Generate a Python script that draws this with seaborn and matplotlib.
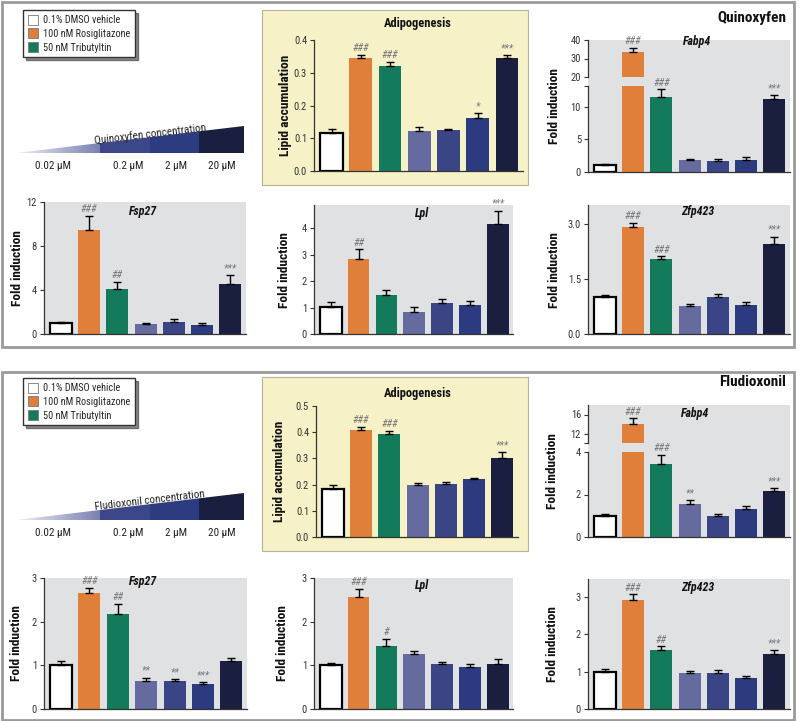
import numpy as np
import pandas as pd
import matplotlib
matplotlib.use("Agg")
import matplotlib.pyplot as plt
import seaborn as sns
from matplotlib import font_manager
from matplotlib.patches import Rectangle, Polygon, Patch

# ---- data ----
groups = ["DMSO", "Rosi", "TBT", "c1", "c2", "c3", "c4"]
bar_colors = ["#ffffff", "#e07f3a", "#137a5b", "#656b9f", "#3a4585", "#2c3b80", "#1b1f3f"]
legend_labels = ["0.1% DMSO vehicle", "100 nM Rosiglitazone", "50 nM Tributyltin"]
conc_labels = ["0.02 μM", "0.2 μM", "2 μM", "20 μM"]
chemicals = ["Quinoxyfen", "Fludioxonil"]

# Quinoxyfen
q_adipo = [0.117, 0.344, 0.322, 0.123, 0.126, 0.163, 0.344]
q_adipo_err = [0.010, 0.010, 0.012, 0.010, 0.003, 0.013, 0.010]
q_adipo_sig = ["", "###", "###", "", "", "*", "***"]

q_fabp4 = [1.1, 33.6, 11.5, 1.8, 1.65, 1.8, 11.2]
q_fabp4_err = [0.1, 2.3, 1.2, 0.15, 0.3, 0.45, 0.6]
q_fabp4_sig = ["", "###", "###", "", "", "", "***"]

q_fsp27 = [1.03, 9.48, 4.07, 0.88, 1.12, 0.82, 4.53]
q_fsp27_err = [0.09, 1.28, 0.67, 0.15, 0.22, 0.18, 0.85]
q_fsp27_sig = ["", "###", "##", "", "", "", "***"]

q_lpl = [1.01, 2.84, 1.48, 0.82, 1.16, 1.09, 4.15]
q_lpl_err = [0.19, 0.36, 0.19, 0.19, 0.15, 0.17, 0.52]
q_lpl_sig = ["", "##", "", "", "", "", "***"]

q_zfp = [1.02, 2.91, 2.05, 0.77, 1.02, 0.79, 2.45]
q_zfp_err = [0.05, 0.13, 0.07, 0.04, 0.07, 0.08, 0.21]
q_zfp_sig = ["", "###", "###", "", "", "", "***"]

# Fludioxonil
f_adipo = [0.185, 0.408, 0.395, 0.198, 0.202, 0.221, 0.301]
f_adipo_err = [0.015, 0.013, 0.011, 0.010, 0.007, 0.006, 0.022]
f_adipo_sig = ["", "###", "###", "", "", "", "***"]

f_fabp4 = [0.99, 13.9, 3.45, 1.54, 0.99, 1.33, 2.16]
f_fabp4_err = [0.08, 1.3, 0.42, 0.19, 0.11, 0.11, 0.16]
f_fabp4_sig = ["", "###", "###", "**", "", "", "***"]

f_fsp27 = [1.01, 2.65, 2.17, 0.65, 0.63, 0.57, 1.09]
f_fsp27_err = [0.08, 0.13, 0.24, 0.07, 0.06, 0.04, 0.07]
f_fsp27_sig = ["", "###", "##", "**", "**", "***", ""]

f_lpl = [1.01, 2.56, 1.45, 1.25, 1.03, 0.97, 1.03]
f_lpl_err = [0.05, 0.19, 0.15, 0.08, 0.05, 0.05, 0.11]
f_lpl_sig = ["", "###", "#", "", "", "", ""]

f_zfp = [1.0, 2.91, 1.58, 0.95, 0.97, 0.82, 1.47]
f_zfp_err = [0.06, 0.15, 0.09, 0.07, 0.06, 0.05, 0.11]
f_zfp_sig = ["", "###", "##", "", "", "", "***"]

# ---- style ----
sns.set_style("ticks")

# pick a narrow font if one is around, otherwise shrink DejaVu a bit
fonts = {(f.name, f.stretch) for f in font_manager.fontManager.ttflist}
names = {n for n, _ in fonts}
fs = 1.0
if "Liberation Sans Narrow" in names:
    plt.rcParams["font.family"] = ["Liberation Sans Narrow", "DejaVu Sans"]
elif "Roboto Condensed" in names:
    plt.rcParams["font.family"] = ["Roboto Condensed", "DejaVu Sans"]
elif ("DejaVu Sans", "condensed") in fonts or ("DejaVu Sans", "semi-condensed") in fonts:
    plt.rcParams["font.family"] = ["DejaVu Sans"]
    plt.rcParams["font.stretch"] = "condensed"
else:
    plt.rcParams["font.family"] = ["DejaVu Sans"]
    fs = 0.86
plt.rcParams["axes.linewidth"] = 0.8

W, H = 800, 721
fig = plt.figure(figsize=(W / 100, H / 100), dpi=100)

GRAY_BG = "#e0e1e3"
YELLOW = "#f6f1c6"
AXCOL = "#333333"


def px_axes(l, t, r, b):
    return fig.add_axes([l / W, 1 - b / H, (r - l) / W, (b - t) / H])


def px_rect(l, t, r, b, **kw):
    fig.patches.append(Rectangle((l / W, 1 - b / H), (r - l) / W, (b - t) / H,
                                 transform=fig.transFigure, **kw))


def px_text(x, y, s, **kw):
    fig.text(x / W, 1 - y / H, s, **kw)


def style_ax(ax, ylim, ticks, labels=None, face=GRAY_BG, bottom=True):
    ax.set_facecolor(face)
    ax.set_xlim(-0.6, 6.55)
    ax.set_ylim(ylim)
    ax.set_yticks(ticks)
    if labels is not None:
        ax.set_yticklabels(labels)
    ax.set_xticks([])
    ax.set_xlabel("")
    ax.set_ylabel("")
    for s in ["top", "right"]:
        ax.spines[s].set_visible(False)
    ax.spines["bottom"].set_visible(bottom)
    for s in ["left", "bottom"]:
        ax.spines[s].set_color(AXCOL)
        ax.spines[s].set_linewidth(0.9)
    ax.tick_params(axis="y", length=3, width=0.8, labelsize=7.6 * fs, pad=2,
                   colors=AXCOL)


def bars(ax, vals, errs):
    df = pd.DataFrame({"group": groups, "value": vals})
    sns.barplot(data=df, x="group", y="value", hue="group", palette=bar_colors,
                legend=False, width=0.78, saturation=1, linewidth=0, ax=ax)
    ax.patches[0].set_edgecolor("black")
    ax.patches[0].set_linewidth(1.6)
    ax.errorbar(range(len(vals)), vals, yerr=[np.zeros(len(vals)), errs],
                fmt="none", ecolor="black", elinewidth=1, capsize=3.2,
                capthick=1, zorder=3)


def sig_marks(ax, vals, errs, sig, only=None):
    for i, s in enumerate(sig):
        if not s or (only is not None and i not in only):
            continue
        ax.annotate(s, (i, vals[i] + errs[i]), xytext=(0, 1.2),
                    textcoords="offset points", ha="center", va="bottom",
                    fontsize=7.5 * fs, color="#7a7a7a", style="italic",
                    annotation_clip=False, zorder=5)


def simple_panel(box, vals, errs, sig, ylim, ticks, labels=None, face=GRAY_BG):
    ax = px_axes(*box)
    bars(ax, vals, errs)
    style_ax(ax, ylim, ticks, labels, face=face)
    sig_marks(ax, vals, errs, sig)
    return ax


def broken_panel(up_box, lo_box, vals, errs, sig, up_lim, lo_lim,
                 up_ticks, up_labels, lo_ticks, lo_labels):
    # fill gap between the two halves with the panel grey
    px_rect(up_box[0], up_box[3], up_box[2], lo_box[1], facecolor=GRAY_BG,
            edgecolor="none", zorder=-1)
    up = px_axes(*up_box)
    lo = px_axes(*lo_box)
    lo.set_zorder(2)
    bars(up, vals, errs)
    bars(lo, vals, errs)
    style_ax(up, up_lim, up_ticks, up_labels, bottom=False)
    style_ax(lo, lo_lim, lo_ticks, lo_labels)
    big = [i for i, v in enumerate(vals) if v > lo_lim[1]]
    small = [i for i, v in enumerate(vals) if v <= lo_lim[1]]
    sig_marks(up, vals, errs, sig, only=big)
    sig_marks(lo, vals, errs, sig, only=small)


def wedge(top, chem):
    # concentration wedge drawn in pixel coordinates
    ax = px_axes(0, top, 262, top + 60)
    ax.set_xlim(0, 262)
    ax.set_ylim(top + 60, top)
    ax.axis("off")
    x0, x1 = 16, 244
    base = top + 33
    rise = 27
    h = lambda x: base - rise * (x - x0) / (x1 - x0)
    cuts = [x0, 100, 150, 199, x1]
    seg_cols = [None, "#3c4789", "#2d3b80", "#1b1f3f"]
    tri = Polygon([(cuts[0], base), (cuts[1], base), (cuts[1], h(cuts[1]))],
                  closed=True, facecolor="none", edgecolor="none")
    ax.add_patch(tri)
    grad = np.linspace(0, 1, 256)[None, :]
    cmap = matplotlib.colors.LinearSegmentedColormap.from_list(
        "w", ["#eef0f6", "#7a80b0"])
    im = ax.imshow(grad, extent=[cuts[0], cuts[1], base, h(cuts[1])],
                   cmap=cmap, aspect="auto")
    im.set_clip_path(tri)
    for k in range(1, 4):
        a, b = cuts[k], cuts[k + 1]
        ax.add_patch(Polygon([(a, base), (b, base), (b, h(b)), (a, h(a))],
                             closed=True, facecolor=seg_cols[k], edgecolor="none"))
    ang = np.degrees(np.arctan(rise / (x1 - x0)))
    ax.text(150, top + 14, f"{chem} concentration", rotation=ang,
            rotation_mode="anchor", ha="center", va="center", fontsize=8 * fs,
            color="#222")
    for xx, lab in zip([53, 128, 176, 222], conc_labels):
        ax.text(xx, base + 13, lab, ha="center", va="center", fontsize=8 * fs,
                color="#222")


def legend_box(top):
    handles = [Patch(facecolor=c, edgecolor="#777", linewidth=0.6)
               for c in bar_colors[:3]]
    fig.legend(handles, legend_labels, loc="upper left",
               bbox_to_anchor=(23 / W, 1 - top / H), frameon=True,
               fancybox=False, shadow={"shade": 0.9}, edgecolor="#333",
               fontsize=7.4 * fs, handlelength=1.05, handleheight=1.15,
               handletextpad=0.45, borderpad=0.45, labelspacing=0.3,
               borderaxespad=0)


# outer frames and yellow boxes
for (t, b) in [(2, 347), (372, 720)]:
    px_rect(2, t, 794, b, facecolor="white", edgecolor="#9a9a9a",
            linewidth=2, zorder=-3)
px_rect(262, 10, 528, 185, facecolor=YELLOW, edgecolor="#b8b49a",
        linewidth=0.8, zorder=-2)
px_rect(262, 377, 528, 551, facecolor=YELLOW, edgecolor="#b8b49a",
        linewidth=0.8, zorder=-2)

# ---------------- Quinoxyfen ----------------
legend_box(10)
wedge(120, chemicals[0])
simple_panel((314, 40, 523, 171), q_adipo, q_adipo_err, q_adipo_sig,
             (0, 0.4), [0, 0.1, 0.2, 0.3, 0.4],
             ["0.0", "0.1", "0.2", "0.3", "0.4"], face="none")
broken_panel((588, 40, 790, 77), (588, 86, 790, 172), q_fabp4, q_fabp4_err,
             q_fabp4_sig, (20, 40), (0, 13.2), [20, 30, 40],
             ["20", "30", "40"], [0, 5, 10, 13.2], ["0", "5", "10", ""])
simple_panel((44, 202, 246, 334), q_fsp27, q_fsp27_err, q_fsp27_sig,
             (0, 12), [0, 4, 8, 12])
simple_panel((314, 205, 513, 334), q_lpl, q_lpl_err, q_lpl_sig,
             (0, 4.88), [0, 1, 2, 3, 4])
simple_panel((588, 205, 790, 334), q_zfp, q_zfp_err, q_zfp_sig,
             (0, 3.52), [0, 1.5, 3.0], ["0.0", "1.5", "3.0"])

# ---------------- Fludioxonil ----------------
legend_box(378)
wedge(487, chemicals[1])
simple_panel((316, 406, 518, 537), f_adipo, f_adipo_err, f_adipo_sig,
             (0, 0.5), [0, 0.1, 0.2, 0.3, 0.4, 0.5],
             ["0.0", "0.1", "0.2", "0.3", "0.4", "0.5"], face="none")
broken_panel((588, 405, 790, 443), (588, 452, 790, 537), f_fabp4, f_fabp4_err,
             f_fabp4_sig, (10, 18), (0, 4), [10, 12, 16], ["", "12", "16"],
             [0, 2, 4], ["0", "2", "4"])
simple_panel((44, 578, 247, 709), f_fsp27, f_fsp27_err, f_fsp27_sig,
             (0, 3), [0, 1, 2, 3])
simple_panel((314, 578, 513, 709), f_lpl, f_lpl_err, f_lpl_sig,
             (0, 3), [0, 1, 2, 3])
simple_panel((588, 579, 790, 709), f_zfp, f_zfp_err, f_zfp_sig,
             (0, 3.47), [0, 1, 2, 3])

# ---------------- titles and labels ----------------
bold = dict(fontweight="bold", color="#111")
px_text(786, 18, chemicals[0], ha="right", va="center", fontsize=11 * fs, **bold)
px_text(786, 382, chemicals[1], ha="right", va="center", fontsize=11 * fs, **bold)
px_text(418, 24, "Adipogenesis", ha="center", va="center", fontsize=9 * fs, **bold)
px_text(418, 393, "Adipogenesis", ha="center", va="center", fontsize=9 * fs, **bold)

ylab = dict(rotation=90, ha="center", va="center", fontsize=9.6 * fs, **bold)
px_text(286, 105, "Lipid accumulation", **ylab)
px_text(280, 471, "Lipid accumulation", **ylab)
for x, y in [(555, 106), (18, 268), (284, 270), (555, 270),
             (553, 471), (17, 643), (283, 643), (553, 644)]:
    px_text(x, y, "Fold induction", **ylab)

gene = dict(ha="center", va="center", fontsize=8.6 * fs, fontweight="bold",
            style="italic", color="#111")
for x, y, g in [(697, 42, "Fabp4"), (143, 212, "Fsp27"), (422, 213, "Lpl"),
                (698, 212, "Zfp423"), (695, 413, "Fabp4"), (143, 582, "Fsp27"),
                (422, 585, "Lpl"), (698, 587, "Zfp423")]:
    px_text(x, y, g, **gene)

fig.savefig("out.png", dpi=100)
